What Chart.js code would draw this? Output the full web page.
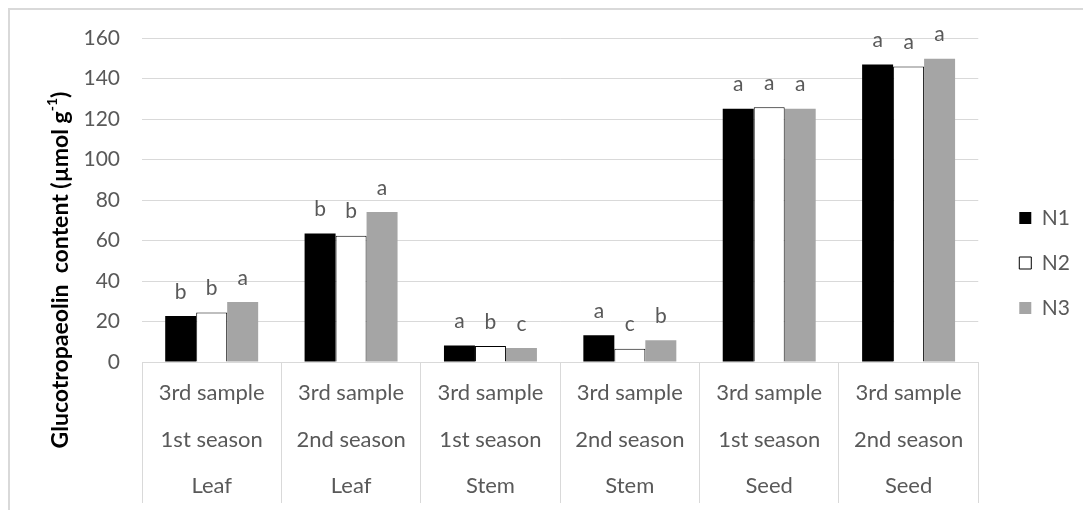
<!DOCTYPE html>
<html>
<head>
<meta charset="utf-8">
<script src="https://cdn.jsdelivr.net/npm/chart.js@4.4.1/dist/chart.umd.min.js"></script>
<style>
	html,body{margin:0;padding:0;background:#fff}
	#wrap{width:1083px;height:510px;position:relative}
</style>
</head>
<body>
<div id="wrap"><canvas id="chart"></canvas></div>
<script>
// values
const categories = [
	['3rd sample','1st season','Leaf'],
	['3rd sample','2nd season','Leaf'],
	['3rd sample','1st season','Stem'],
	['3rd sample','2nd season','Stem'],
	['3rd sample','1st season','Seed'],
	['3rd sample','2nd season','Seed']
]
const n1 = [22.7, 63.4, 8.1, 13.2, 125.1, 146.9]
const n2 = [24.4, 62.4, 7.9, 6.6, 125.8, 145.9]
const n3 = [29.6, 74.1, 6.9, 10.7, 125.1, 149.8]
const n1Letters = ['b','b','a','a','a','a']
const n2Letters = ['b','b','b','c','a','a']
const n3Letters = ['a','a','c','b','a','a']
const yTicks = [0, 20, 40, 60, 80, 100, 120, 140, 160]

const FONT = 'Lato, "Open Sans", sans-serif'
const TXT = '#595959'
const LINE = '#d9d9d9'

const letters = [n1Letters, n2Letters, n3Letters]

const letterPlugin = {
	id: 'letters',
	afterDatasetsDraw(chart){
		const ctx = chart.ctx
		ctx.save()
		ctx.font = '21px ' + FONT
		ctx.fillStyle = TXT
		ctx.textAlign = 'center'
		ctx.textBaseline = 'middle'
		chart.data.datasets.forEach((ds, di) => {
			chart.getDatasetMeta(di).data.forEach((bar, i) => {
				ctx.fillText(letters[di][i], bar.x, bar.y - 24)
			})
		})
		ctx.restore()
	}
}

const framePlugin = {
	id: 'frame',
	beforeDraw(chart){
		const ctx = chart.ctx
		ctx.save()
		ctx.strokeStyle = LINE
		ctx.lineWidth = 2
		ctx.beginPath()
		ctx.moveTo(9, 510); ctx.lineTo(9, 9); ctx.lineTo(1083, 9)
		ctx.stroke()
		ctx.restore()
	},
	afterDraw(chart){
		// y axis title, centred like the original
		const ctx = chart.ctx
		ctx.save()
		ctx.translate(61, 270)
		ctx.rotate(-Math.PI/2)
		ctx.fillStyle = '#000'
		ctx.textBaseline = 'middle'
		const main = 'Glucotropaeolin  content (µmol g'
		const sup = '-1'
		const end = ')'
		ctx.font = 'bold 23px ' + FONT
		const w1 = ctx.measureText(main).width
		const w3 = ctx.measureText(end).width
		ctx.font = 'bold 14px ' + FONT
		const w2 = ctx.measureText(sup).width
		let x = -(w1 + w2 + w3) / 2
		ctx.font = 'bold 23px ' + FONT
		ctx.fillText(main, x, 0); x += w1
		ctx.font = 'bold 14px ' + FONT
		ctx.fillText(sup, x, -9); x += w2
		ctx.font = 'bold 23px ' + FONT
		ctx.fillText(end, x, 0)
		ctx.restore()
	}
}

new Chart(document.getElementById('chart'), {
	type: 'bar',
	data: {
		labels: categories,
		datasets: [
			{ label: 'N1', data: n1, backgroundColor: '#000000', borderWidth: 0 },
			{ label: 'N2', data: n2, backgroundColor: '#ffffff', borderColor: '#000000', borderWidth: 1 },
			{ label: 'N3', data: n3, backgroundColor: '#a5a5a5', borderWidth: 0 }
		]
	},
	options: {
		responsive: true,
		maintainAspectRatio: false,
		animation: false,
		categoryPercentage: 0.667,
		barPercentage: 1,
		layout: { padding: { left: 0, top: 16, right: 3, bottom: 0 } },
		plugins: {
			tooltip: { enabled: false },
			// empty title only to push the plot area down without moving the legend
			title: { display: true, text: '', fullSize: false, padding: { top: 0, bottom: 12 }, font: { size: 10, lineHeight: 1 } },
			legend: {
				position: 'right',
				labels: { boxWidth: 12, boxHeight: 12, padding: 24, color: TXT, font: { family: FONT, size: 21 } }
			}
		},
		scales: {
			x: {
				grid: { display: true, drawOnChartArea: false, drawTicks: true, tickLength: 141, color: LINE, lineWidth: 1 },
				border: { display: false },
				ticks: { color: TXT, padding: -133, maxRotation: 0, autoSkip: false, font: { family: FONT, size: 22, lineHeight: 2.11 } },
				afterFit(s){ s.height = 148 }
			},
			y: {
				min: 0, max: 160,
				afterBuildTicks(s){ s.ticks = yTicks.map(v => ({ value: v })) },
				grid: { color: LINE, lineWidth: 1, drawTicks: false },
				border: { display: false },
				ticks: { color: TXT, padding: 22, font: { family: FONT, size: 21 } },
				afterFit(s){ s.width = 142 }
			},
			yR: {
				position: 'right',
				display: true,
				grid: { display: false },
				border: { display: false },
				ticks: { display: false },
				afterFit(s){ s.width = 17 }
			}
		}
	},
	plugins: [letterPlugin, framePlugin]
})
</script>
</body>
</html>
